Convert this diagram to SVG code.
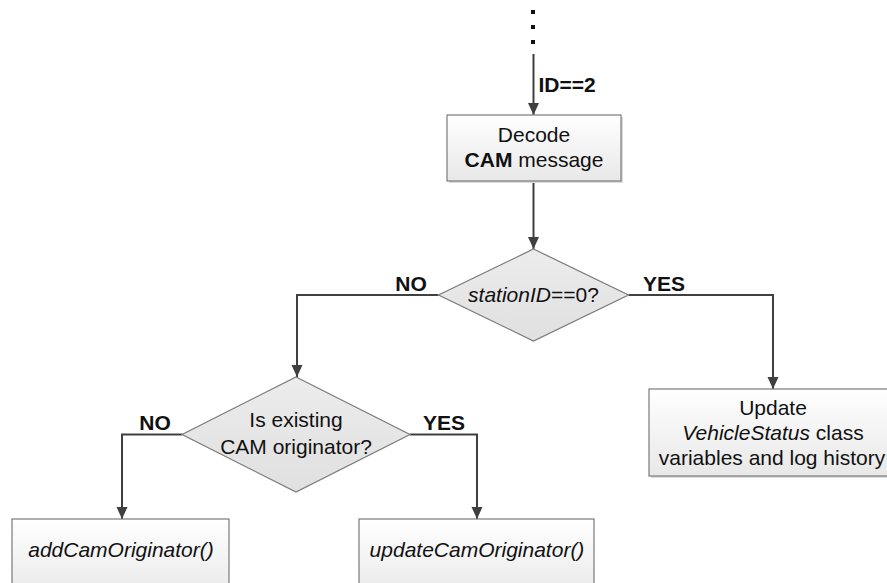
<svg xmlns="http://www.w3.org/2000/svg" width="887" height="583" viewBox="0 0 887 583">
  <defs>
    <linearGradient id="boxFill" x1="0" y1="0" x2="0" y2="1">
      <stop offset="0" stop-color="#ffffff"/>
      <stop offset="1" stop-color="#e8e8e8"/>
    </linearGradient>
    <linearGradient id="diamondFill" x1="0" y1="0" x2="0" y2="1">
      <stop offset="0" stop-color="#ececec"/>
      <stop offset="1" stop-color="#e0e0e0"/>
    </linearGradient>
    <marker id="arrow" markerUnits="userSpaceOnUse" markerWidth="12" markerHeight="12" refX="12" refY="6" orient="auto">
      <path d="M0,0.5 L12,6 L0,11.5 z" fill="#404040"/>
    </marker>
  </defs>
  <style>
    text { font-family: "Liberation Sans", Arial, sans-serif; font-size: 21px; fill: #111; text-anchor: middle; }
    .bold { font-weight: bold; }
    .it { font-style: italic; }
    .box { fill: url(#boxFill); stroke: #7a7a7a; stroke-width: 1.2; }
    .shadow { fill: #dcdcdc; }
    .diamond { fill: url(#diamondFill); stroke: #7a7a7a; stroke-width: 1.2; }
    .conn { fill: none; stroke: #404040; stroke-width: 2; }
    .dot { fill: #111; }
  </style>

  <rect width="887" height="583" fill="#ffffff"/>

  <!-- continuation dots from the previous branch -->
  <g id="ellipsis">
    <rect class="dot" x="531" y="10" width="4" height="4"/>
    <rect class="dot" x="531" y="25" width="4" height="4"/>
    <rect class="dot" x="531" y="40" width="4" height="4"/>
  </g>

  <!-- connectors -->
  <g id="connectors">
    <path class="conn" d="M533.5,54 V115" marker-end="url(#arrow)"/>
    <path class="conn" d="M533.5,181 V249" marker-end="url(#arrow)"/>
    <path class="conn" d="M438.5,295 H297 V377" marker-end="url(#arrow)"/>
    <path class="conn" d="M628.5,295 H773 V389" marker-end="url(#arrow)"/>
    <path class="conn" d="M182,434.5 H122 V519" marker-end="url(#arrow)"/>
    <path class="conn" d="M410,434.5 H477 V519" marker-end="url(#arrow)"/>
    <text class="bold" x="567" y="92">ID==2</text>
    <text class="bold" x="411" y="291">NO</text>
    <text class="bold" x="664" y="291">YES</text>
    <text class="bold" x="155" y="430">NO</text>
    <text class="bold" x="444" y="430">YES</text>
  </g>

  <!-- Decode CAM message -->
  <g id="decode">
    <rect class="shadow" x="449" y="117" width="174" height="66"/>
    <rect class="box" x="447" y="115" width="174" height="66"/>
    <text x="534" y="142">Decode</text>
    <text x="534" y="167"><tspan class="bold">CAM</tspan> message</text>
  </g>

  <!-- stationID==0? -->
  <g id="stationCheck">
    <polygon class="diamond" points="533.5,249 628.5,295 533.5,341 438.5,295"/>
    <text x="533.5" y="302"><tspan class="it">stationID</tspan>==0?</text>
  </g>

  <!-- Is existing CAM originator? -->
  <g id="originatorCheck">
    <polygon class="diamond" points="296,377 410,434.5 296,492 182,434.5"/>
    <text x="296" y="427">Is existing</text>
    <text x="296" y="454">CAM originator?</text>
  </g>

  <!-- Update VehicleStatus -->
  <g id="updateStatus">
    <rect class="shadow" x="651" y="391" width="250" height="87"/>
    <rect class="box" x="649" y="389" width="250" height="87"/>
    <text x="773" y="415">Update</text>
    <text x="773" y="440"><tspan class="it">VehicleStatus</tspan> class</text>
    <text x="772" y="465">variables and log history</text>
  </g>

  <!-- addCamOriginator() -->
  <g id="addOriginator">
    <rect class="box" x="12" y="519" width="217" height="80"/>
    <text class="it" x="121" y="557">addCamOriginator()</text>
  </g>

  <!-- updateCamOriginator() -->
  <g id="updateOriginator">
    <rect class="box" x="359" y="519" width="235" height="80"/>
    <text class="it" x="477" y="557">updateCamOriginator()</text>
  </g>
</svg>
